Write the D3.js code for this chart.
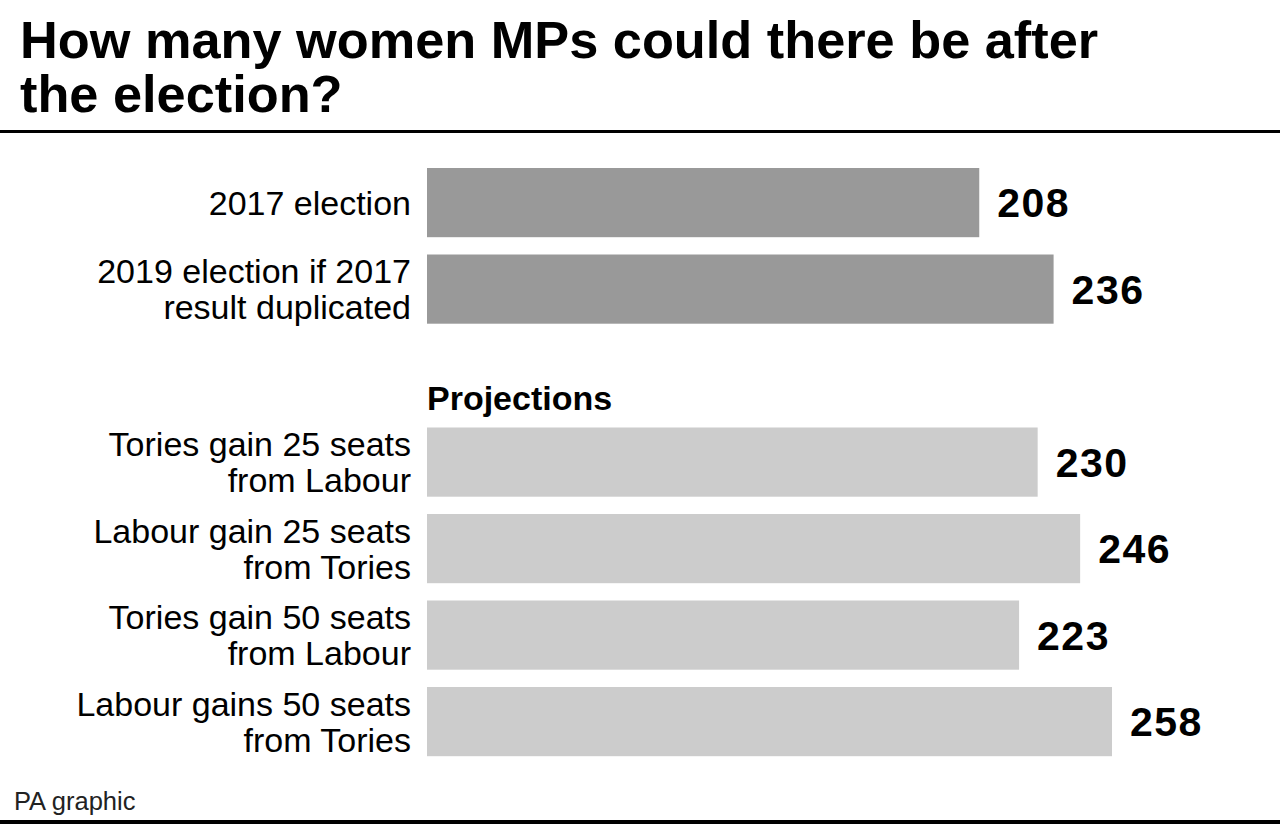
<!DOCTYPE html>
<html><head><meta charset="utf-8">
<script src="https://cdn.jsdelivr.net/npm/d3@7"></script>
<style>html,body{margin:0;padding:0;background:#fff;}svg{display:block;}</style>
</head><body>
<svg id="chart" width="1280" height="832"></svg>
<script>
const categories = [
  ["2017 election"],
  ["2019 election if 2017", "result duplicated"],
  ["Tories gain 25 seats", "from Labour"],
  ["Labour gain 25 seats", "from Tories"],
  ["Tories gain 50 seats", "from Labour"],
  ["Labour gains 50 seats", "from Tories"]
];
const values = [208, 236, 230, 246, 223, 258];
const groups = ["actual", "actual", "projection", "projection", "projection", "projection"];
const titleLines = ["How many women MPs could there be after", "the election?"];
const sectionLabel = "Projections";
const source = "PA graphic";

const svg = d3.select("#chart");
const W = 1280;
const font = "'Liberation Sans', Arial, Helvetica, sans-serif";

// Title
svg.append("g").selectAll("text").data(titleLines).join("text")
  .attr("x", 20).attr("y", (d,i) => 58 + i*54)
  .attr("font-family", font).attr("font-weight", "bold").attr("font-size", 52.3)
  .attr("fill", "#000").text(d => d);

svg.append("rect").attr("x", 0).attr("y", 130).attr("width", W).attr("height", 3).attr("fill", "#000");
svg.append("rect").attr("x", 0).attr("y", 820).attr("width", W).attr("height", 4).attr("fill", "#000");

const keys = ["c0","c1","spacer","c2","c3","c4","c5"];
const y = d3.scaleBand().domain(keys).range([159.35, 764.85]).paddingInner(0.2).paddingOuter(0.1);
const x = d3.scaleLinear().domain([0, 258]).range([427, 1112]);
const color = d3.scaleOrdinal().domain(["actual","projection"]).range(["#999999","#cccccc"]);

const data = values.map((v,i) => ({key: "c"+i, label: categories[i], value: v, group: groups[i]}));

const rows = svg.append("g").selectAll("g").data(data).join("g");
rows.append("rect")
  .attr("x", x(0)).attr("y", d => y(d.key))
  .attr("width", d => x(d.value) - x(0)).attr("height", y.bandwidth())
  .attr("fill", d => color(d.group));

rows.append("text")
  .attr("x", d => x(d.value) + 18)
  .attr("y", d => y(d.key) + y.bandwidth()/2)
  .attr("dy", "0.36em")
  .attr("font-family", font).attr("font-weight", "bold").attr("font-size", 41)
  .attr("letter-spacing", 1.5)
  .attr("fill", "#000").text(d => d.value);

rows.each(function(d){
  const g = d3.select(this);
  const n = d.label.length;
  const cy = y(d.key) + y.bandwidth()/2;
  const lh = 36;
  d.label.forEach((t,j) => {
    g.append("text")
      .attr("x", 411).attr("y", cy + (j - (n-1)/2)*lh)
      .attr("dy", "0.35em").attr("text-anchor", "end")
      .attr("font-family", font).attr("font-size", 34)
      .attr("fill", "#000").text(t);
  });
});

svg.append("text").attr("x", 427).attr("y", 410)
  .attr("font-family", font).attr("font-weight", "bold").attr("font-size", 34)
  .attr("fill", "#000").text(sectionLabel);

svg.append("text").attr("x", 14).attr("y", 810)
  .attr("font-family", font).attr("font-size", 25.5)
  .attr("fill", "#222").text(source);
</script>
</body></html>
